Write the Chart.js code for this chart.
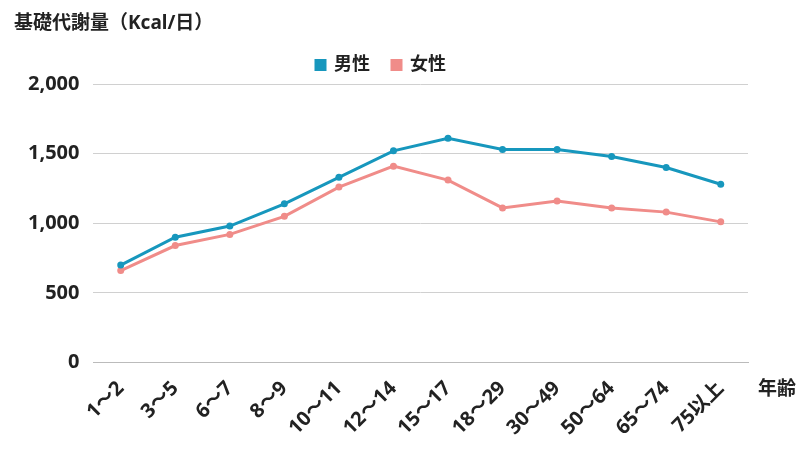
<!DOCTYPE html>
<html><head><meta charset="utf-8">
<script src="https://cdn.jsdelivr.net/npm/chart.js@4"></script>
<style>body{margin:0;background:#fff}#w{width:800px;height:450px;position:relative}</style>
</head><body><div id="w"><canvas id="c"></canvas></div>
<script>
const categories=["1～2","3～5","6～7","8～9","10～11","12～14","15～17","18～29","30～49","50～64","65～74","75以上"];
const male=[700,900,980,1140,1330,1520,1610,1530,1530,1480,1400,1280];
const female=[660,840,920,1050,1260,1410,1310,1110,1160,1110,1080,1010];
const F="'Noto Sans','Noto Sans CJK JP',sans-serif";
const extra={id:'extra',afterDraw(ch){const c=ch.ctx;c.save();c.fillStyle='#222';c.font="bold 19px "+F;c.textBaseline='middle';
c.textAlign='left';c.fillText('基礎代謝量（Kcal/日）',14,24);
c.textAlign='right';c.fillText('年齢',796,390);c.restore();}};
new Chart(document.getElementById('c'),{type:'line',
data:{labels:categories,datasets:[
{label:'男性',data:male,borderColor:'#1797BD',backgroundColor:'#1797BD',borderWidth:3,pointRadius:3.5,pointBorderWidth:0},
{label:'女性',data:female,borderColor:'#F08C89',backgroundColor:'#F08C89',borderWidth:3,pointRadius:3.5,pointBorderWidth:0}]},
plugins:[extra],
options:{responsive:true,maintainAspectRatio:false,animation:false,
layout:{padding:{left:14,right:52,top:34,bottom:4}},
plugins:{legend:{position:'top',labels:{boxWidth:9,boxHeight:9,font:{family:F,size:18,weight:'bold'},color:'#222',padding:22}},
tooltip:{enabled:false}},
scales:{y:{min:0,max:2000,ticks:{stepSize:500,color:'#222',font:{family:F,size:20,weight:'bold'},padding:14},
grid:{color:'#d0d0d0',drawTicks:false},border:{display:false}},
x:{offset:true,ticks:{color:'#222',font:{family:F,size:20,weight:'bold'},maxRotation:45,minRotation:45,padding:6},
grid:{display:false},border:{color:'#bbb'}}}}});
</script></body></html>
